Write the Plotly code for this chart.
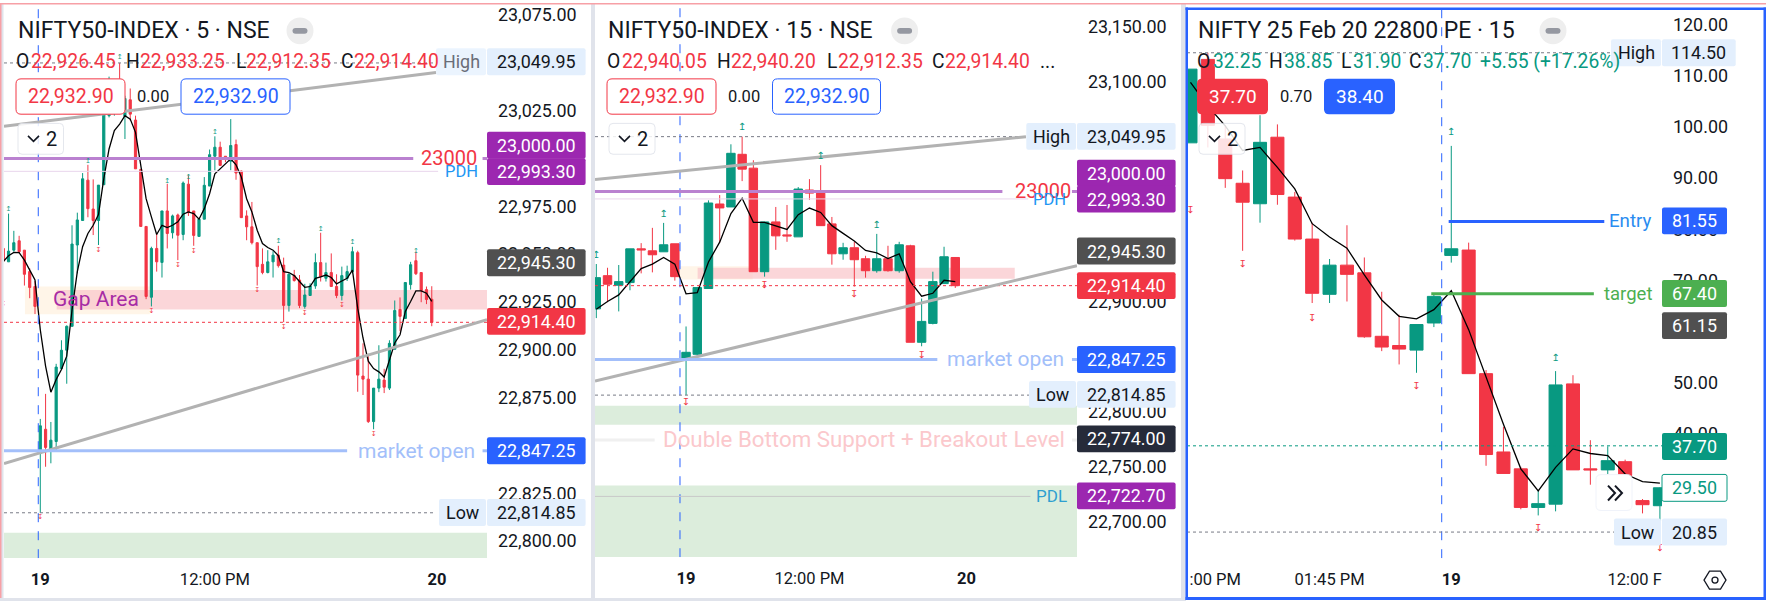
import plotly.graph_objects as go

W, H = 1766, 601
FONT = "Roboto"
UP, DOWN = "#089981", "#F23645"
BLUE = "#2962FF"
INK = "#131722"
GREY_LINE = "#B2B2B2"
PURPLE = "#9C27B0"
LEVEL_PURPLE = "#BA81D0"
LEVEL_BLUE = "#A3BFFA"
ZONE_GREEN = "#DCEDDC"
ZONE_PINK = "#FAD4D6"
ZONE_ORANGE = "#FFF5E8"
TAG_BG = "#E3EFFD"
SIZE_AXIS = 17.9

# ---------- 5 minute chart ----------
o1 = [22953.0,22946.0,22952.1,22957.0,22952.1,22940.9,22933.1,
      22846.0,22858.5,22848.1,22852.1,22890.2,22899.8,22912.3,22954.8,22967.6,22988.7,22973.6,22967.6,22986.3,23022.4,23024.0,23031.0,23022.0,23030.7,23020.1,22994.3,22964.5,22927.5,22953.0,22945.7,22972.6,22961.2,22970.5,22960.3,22986.6,22972.6,22959.3,22968.3,22985.6,23001.2,23005.9,23001.2,22998.6,23007.3,22993.4,22970.0,
      22964.3,22956.0,22944.7,22940.4,22946.0,22949.5,22944.3,22923.2,22938.8,22936.5,22922.7,22928.4,22933.4,22945.6,22937.4,22940.4,22933.1,22928.4,22937.4,22940.9,22950.8,22886.3,22884.7,22862.5,22880.0,22884.2,22880.0,22900.3,22921.1,22916.4,22934.1,22946.6,22940.4,22931.5,22926.45]
h1 = [22953.0,22971.2,22962.2,22959.6,22952.1,22942.6,22936.0,
      22863.9,22877.0,22862.3,22892.7,22905.0,22912.8,22965.1,22971.7,22992.4,22996.7,22989.1,22986.1,23029.3,23042.8,23032.8,23049.95,23032.8,23036.6,23022.4,22994.3,22964.5,22953.9,22960.8,22972.6,22986.8,22970.7,22971.2,22988.0,22991.2,22972.6,22969.0,22990.3,23004.7,23011.6,23008.8,23001.2,23020.6,23009.9,22993.8,22972.9,
      22977.3,22956.0,22953.0,22952.1,22951.6,22954.4,22948.2,22940.0,22941.8,22939.1,22934.5,22934.8,22950.4,22961.2,22945.6,22950.4,22939.5,22943.5,22944.0,22953.9,22951.8,22903.4,22897.9,22880.0,22902.4,22890.1,22905.0,22925.8,22927.4,22935.2,22946.0,22951.3,22940.4,22933.1,22933.25]
l1 = [22943.0,22946.0,22951.3,22950.4,22933.6,22927.0,22918.7,
      22814.85,22838.9,22840.7,22846.9,22889.7,22882.3,22912.3,22940.0,22967.6,22969.3,22960.0,22954.8,22986.3,23021.5,23022.4,23024.0,23010.2,23019.8,22994.6,22964.5,22926.5,22922.7,22940.9,22937.8,22953.0,22958.2,22946.9,22957.3,22970.0,22954.4,22959.3,22968.3,22985.6,22993.8,22996.4,22998.1,22993.9,22988.9,22969.1,22957.3,
      22955.1,22933.6,22939.5,22940.0,22937.8,22943.0,22914.5,22920.0,22935.7,22921.8,22921.5,22928.4,22931.9,22935.7,22935.7,22933.1,22927.0,22925.8,22936.0,22940.0,22878.1,22876.4,22861.8,22858.5,22877.9,22877.4,22879.0,22900.3,22909.7,22916.4,22931.5,22939.1,22924.9,22923.9,22912.35]
c1 = [22946.4,22951.6,22956.0,22951.3,22939.5,22932.6,22922.7,
      22860.3,22849.0,22852.8,22891.0,22899.8,22912.3,22955.3,22967.9,22989.4,22973.8,22967.6,22986.1,23023.0,23030.2,23029.3,23025.8,23031.4,23023.2,22994.6,22964.5,22927.9,22953.0,22946.0,22972.6,22960.8,22970.0,22959.9,22987.2,22971.7,22959.8,22968.3,22986.0,23002.0,23005.9,22996.4,22999.5,23006.8,22992.4,22969.1,22964.3,
      22956.0,22943.5,22940.4,22946.0,22949.5,22944.0,22923.2,22939.5,22936.2,22923.2,22928.7,22933.4,22945.6,22938.3,22940.4,22933.1,22928.4,22938.8,22940.9,22951.3,22886.8,22884.7,22862.5,22880.0,22884.7,22880.5,22903.4,22920.6,22917.5,22935.2,22944.5,22939.8,22931.0,22926.3,22914.4]
ema1 = [22946.1,22949.2,22950.9,22950.8,22946.9,22941.7,22936.5,
        22910.5,22891.5,22877.9,22884.5,22889.7,22896.7,22920.9,22940.9,22953.9,22960.8,22965.1,22970.7,22989.4,23005.0,23014.6,23018.0,23022.4,23020.6,23013.7,22995.5,22979.0,22969.5,22960.3,22965.1,22963.9,22965.1,22966.9,22970.9,22972.1,22971.2,22968.3,22973.8,22981.6,22992.0,22994.6,22997.2,22999.8,22996.7,22990.3,22979.0,
        22972.1,22962.5,22955.6,22953.5,22952.1,22949.2,22940.9,22940.4,22938.8,22935.7,22932.7,22933.1,22937.4,22938.1,22939.1,22937.8,22934.5,22936.0,22937.4,22941.7,22921.8,22906.2,22894.1,22890.2,22888.5,22885.8,22894.1,22903.6,22907.9,22920.1,22925.3,22930.8,22930.8,22929.6,22925.3]
first_bar1 = -7
up_k1 = [-6, 9, 15, 24, 28, 33, 45, 53, 59, 71]
up_p1 = [22973.3, 22998.6, 23052.7, 22988.2, 22990.3, 23013.9, 22956.5, 22963.2, 22956.0, 22951.3]
dn_k1 = [-7, 0, 11, 21, 26, 29, 41, 46, 50, 57, 63]
dn_p1 = [22923.6, 22812.6, 22952.1, 22920.1, 22944.0, 22951.5, 22931.0, 22911.8, 22919.0, 22923.4, 22856.1]
ticks_y1 = [23075, 23025, 22975, 22950, 22925, 22900, 22875, 22825, 22800]
ticks_x1 = [0, 33, 75]
range_x1 = [-6.86, 84.44]
range_y1 = [22791.1, 23079.2]

# ---------- 15 minute chart ----------
o2 = [22893.3,22923.5,22914.8,22917.2,22947.9,22946.1,22945.2,22952.5,22846.6,22852.0,22911.8,22988.7,22986.0,23033.9,23021.3,22927.1,22972.4,22960.6,22958.8,23001.4,22998.6,22970.6,22943.4,22948.9,22938.9,22928.0,22938.9,22928.0,22950.7,22862.9,22880.1,22916.3,22940.05]
h2 = [22934.1,22930.7,22933.2,22947.9,22953.1,22967.0,22971.5,22952.5,22877.3,22912.7,22992.0,22996.8,23043.0,23049.95,23028.5,22972.4,22986.0,22987.8,23004.1,23011.3,23024.0,22976.9,22953.4,22954.3,22941.6,22961.5,22950.7,22954.3,22951.6,22902.7,22927.1,22949.8,22940.2]
l2 = [22884.9,22899.4,22891.0,22910.2,22925.6,22926.5,22945.2,22919.0,22814.85,22847.5,22911.8,22953.7,22986.0,23009.5,22927.1,22922.6,22947.0,22954.3,22958.8,22992.3,22968.8,22933.5,22938.0,22913.6,22921.7,22926.2,22927.1,22926.2,22862.9,22859.3,22879.2,22916.3,22912.35]
c2 = [22921.7,22915.7,22918.1,22947.9,22947.0,22942.5,22951.6,22922.6,22853.8,22912.7,22989.6,22985.1,23034.8,23020.4,22927.1,22972.4,22959.7,22959.7,23002.3,22998.6,22969.0,22943.4,22948.9,22938.0,22928.0,22938.9,22928.0,22951.6,22862.9,22881.9,22918.1,22940.7,22914.4]
ema2 = [22893,22900,22906,22918,22930,22934,22940,22934,22907,22908,22936,22954,22980,22994,22972,22972,22969,22965.5,22979,22985,22981,22969,22962,22955,22946.4,22944.3,22939,22943.4,22918,22904.8,22907.5,22919.3,22918]
up_k2 = [0, 6, 13, 20, 25]
up_p2 = [22942.2, 22979.0, 23058.1, 23031.8, 22969.1]
dn_k2 = [8, 15, 23, 29]
dn_p2 = [22808.0, 22914.5, 22906.0, 22850.8]
ticks_y2 = [23150, 23100, 22900, 22800, 22750, 22700]
ticks_x2 = [8, 19, 33]
range_x2 = [-0.116, 42.85]
range_y2 = [22667.4, 23167.9]

# ---------- option chart ----------
o3 = [96.9,113.2,97.65,89.0,85.0,98.0,86.3,78.1,67.3,73.0,71.5,59.1,57.3,56.4,61.7,74.9,75.95,51.8,36.5,33.2,25.66,26.3,49.8,33.2,33.0,34.6,27.0,26.0]
h3 = [111.3,114.5,100.3,91.5,102.3,100.5,87.3,81.3,74.2,80.8,74.5,67.8,63.3,61.4,67.2,96.3,77.4,52.5,41.4,33.6,29.0,52.3,51.5,38.8,37.6,35.0,27.3,29.6]
l3 = [96.9,96.0,88.1,75.8,81.3,84.8,77.8,65.6,65.6,65.9,58.8,56.2,53.6,51.97,60.9,73.5,51.8,33.8,32.3,25.3,24.1,24.9,33.0,30.1,32.2,31.5,24.5,20.85]
c3 = [111.3,100.3,89.9,85.3,97.0,86.8,78.1,67.5,73.0,71.2,59.0,57.0,56.6,61.4,66.9,76.2,51.8,36.0,32.3,25.66,26.4,49.6,33.0,33.0,34.8,31.9,26.2,29.5]
ema3 = [108.7,104.1,100.2,95.4,96.0,92.1,87.9,81.1,78.5,76.3,71.1,66.2,63.0,62.5,64.3,68.0,60.4,51.0,41.9,33.2,28.9,33.5,37.1,36.2,35.8,32.2,30.7,30.4]
up_k3 = [15, 21]
up_p3 = [99.0, 54.75]
dn_k3 = [0, 3, 7, 13, 20, 27]
dn_p3 = [83.7, 73.2, 62.5, 49.25, 21.5, 17.6]
ticks_y3 = [120, 110, 100, 90, 80, 70, 50, 40]
ticks_x3 = [1.42, 8, 15, 25.55]
labels_x3 = [":00 PM", "01:45 PM", "<b>19</b>", "12:00 F"]
range_x3 = [-0.2, 27.12]
range_y3 = [15.74, 122.86]

fig = go.Figure()

def candles(xref, yref, x, o, h, l, c):
    fig.add_trace(go.Candlestick(
        x=x, open=o, high=h, low=l, close=c, xaxis=xref, yaxis=yref,
        increasing=dict(line=dict(color=UP, width=1), fillcolor=UP),
        decreasing=dict(line=dict(color=DOWN, width=1), fillcolor=DOWN),
        whiskerwidth=0, hoverinfo="skip", showlegend=False))

def line(xref, yref, x, y, color, width=1, dash="solid"):
    fig.add_trace(go.Scatter(x=x, y=y, xaxis=xref, yaxis=yref, mode="lines",
                             line=dict(color=color, width=width, dash=dash),
                             hoverinfo="skip", showlegend=False))

def arrows(xref, yref, kx, py_, color, glyph, size):
    fig.add_trace(go.Scatter(x=kx, y=py_, xaxis=xref, yaxis=yref, mode="text",
                             text=[glyph] * len(kx), textposition="middle center",
                             textfont=dict(family="DejaVu Sans", size=size, color=color),
                             hoverinfo="skip", showlegend=False))

shapes = []
annos = []

def px(x):
    return x / W

def py(y):
    return 1 - y / H

def zone(n, x0, x1, p0, p1, fill, opacity=1):
    shapes.append(dict(type="rect", xref=f"x{n}", yref=f"y{n}", x0=x0, x1=x1, y0=p0, y1=p1,
                       fillcolor=fill, line=dict(width=0), layer="below", opacity=opacity))

def rrect(x0, y0, x1, y1, r=4, fill="white", stroke=None, lw=1, opacity=1):
    path = (f"M {px(x0+r)} {py(y0)} L {px(x1-r)} {py(y0)} Q {px(x1)} {py(y0)} {px(x1)} {py(y0+r)} "
            f"L {px(x1)} {py(y1-r)} Q {px(x1)} {py(y1)} {px(x1-r)} {py(y1)} "
            f"L {px(x0+r)} {py(y1)} Q {px(x0)} {py(y1)} {px(x0)} {py(y1-r)} "
            f"L {px(x0)} {py(y0+r)} Q {px(x0)} {py(y0)} {px(x0+r)} {py(y0)} Z")
    shapes.append(dict(type="path", xref="paper", yref="paper", path=path, fillcolor=fill,
                       line=dict(color=stroke or fill, width=lw if stroke else 0),
                       layer="above", opacity=opacity))

def text(x, y, s, size=SIZE_AXIS, color=INK, anchor="center"):
    annos.append(dict(xref="paper", yref="paper", x=px(x), y=py(y), text=s, showarrow=False,
                      xanchor=anchor, yanchor="middle", font=dict(family=FONT, size=size, color=color),
                      borderpad=0, borderwidth=0))

def chip(x0, x1, yc, s, fill, color="white", h=27, stroke=None, opacity=1, size=SIZE_AXIS, r=2):
    rrect(x0, yc - h / 2, x1, yc + h / 2, r=r, fill=fill, stroke=stroke, opacity=opacity)
    text((x0 + x1) / 2, yc, s, color=color, size=size)

def header(x_title, title, x_pill, row, row_color, y_row=59):
    text(x_title, 28, title, size=23, anchor="left")
    shapes.append(dict(type="circle", xref="paper", yref="paper", x0=px(x_pill - 13.5), x1=px(x_pill + 13.5),
                       y0=py(14.5), y1=py(41.5), fillcolor="#EEEEEE", line=dict(width=0), layer="above"))
    rrect(x_pill - 7.5, 25, x_pill + 7.5, 31, r=3, fill="#9598A1")
    for x, s, coloured in row:
        text(x, y_row, s, size=19.3, anchor="left", color=row_color if coloured else INK)

def seg_box(x0, x1):
    rrect(x0, 121, x1, 152, r=4, fill="white", stroke="#E0E3EB", opacity=0.85)
    shapes.append(dict(type="path", xref="paper", yref="paper",
                       path=f"M {px(x0+10)} {py(133.5)} L {px(x0+15.5)} {py(139)} L {px(x0+21)} {py(133.5)}",
                       line=dict(color=INK, width=1.6), layer="above"))
    text(x0 + 33, 136.5, "2", size=20)

# ---------- panel 1 traces ----------
x1 = [first_bar1 + i for i in range(len(c1))]
gap_marker1 = first_bar1 - 0.55
zone(1, -2.9, 20.7, 22918.6, 22933.1, ZONE_ORANGE)
zone(1, 3.1, range_x1[1], 22921.1, 22931.3, "#F9C6CA", 0.72)
zone(1, range_x1[0], range_x1[1], 22791.2, 22804.4, ZONE_GREEN)
candles("x", "y", [gap_marker1] + x1, [None] + o1, [None] + h1, [None] + l1, [None] + c1)
line("x", "y", x1, ema1, "#000000", 1.3)
line("x", "y", [-0.38, -0.38], range_y1, BLUE, 1, "dash")
line("x", "y", [range_x1[0], 74.8], [23049.95, 23049.95], "#787B86", 1, "dot")
line("x", "y", [range_x1[0], 74.8], [22814.85, 22814.85], "#787B86", 1, "dot")
line("x", "y", range_x1, [22914.4, 22914.4], DOWN, 1, "dot")
line("x", "y", [range_x1[0], 74.8], [23016.8, 23044.9], GREY_LINE, 3)
line("x", "y", range_x1, [22840.6, 22915.8], GREY_LINE, 3)
line("x", "y", [range_x1[0], 70.5], [23000, 23000], LEVEL_PURPLE, 3)
line("x", "y", [83.6, range_x1[1]], [23000, 23000], LEVEL_PURPLE, 3)
line("x", "y", [range_x1[0], 75.2], [22993.3, 22993.3], "#E9D5EC", 1)
line("x", "y", [range_x1[0], 58], [22847.25, 22847.25], LEVEL_BLUE, 3)
line("x", "y", [83.6, range_x1[1]], [22847.25, 22847.25], LEVEL_BLUE, 3)
arrows("x", "y", up_k1, up_p1, UP, "↥", 7)
arrows("x", "y", dn_k1, dn_p1, DOWN, "↧", 7)

# ---------- panel 2 traces ----------
x2 = list(range(len(c2)))
zone(2, 7.46, 13.95, 22920.0, 22932.0, ZONE_ORANGE)
zone(2, 9.03, 37.3, 22920.8, 22930.8, "#F9C6CA", 0.72)
zone(2, range_x2[0], range_x2[1], 22788.0, 22805.2, ZONE_GREEN)
zone(2, range_x2[0], range_x2[1], 22667.6, 22732.6, ZONE_GREEN)
candles("x2", "y2", x2, o2, h2, l2, c2)
line("x2", "y2", x2, ema2, "#000000", 1.3)
line("x2", "y2", [7.46, 7.46], range_y2, BLUE, 1, "dash")
line("x2", "y2", [range_x2[0], 38.3], [23049.95, 23049.95], "#787B86", 1, "dot")
line("x2", "y2", [range_x2[0], 38.6], [22814.85, 22814.85], "#787B86", 1, "dot")
line("x2", "y2", range_x2, [22914.4, 22914.4], DOWN, 1, "dot")
line("x2", "y2", [range_x2[0], 38.3], [23011.0, 23049.95], GREY_LINE, 3)
line("x2", "y2", range_x2, [22827.6, 22932.6], GREY_LINE, 3)
line("x2", "y2", [range_x2[0], 36.2], [23000, 23000], LEVEL_PURPLE, 3)
line("x2", "y2", [42.4, range_x2[1]], [23000, 23000], LEVEL_PURPLE, 3)
line("x2", "y2", [range_x2[0], 38.5], [22993.3, 22993.3], "#E9D5EC", 1)
line("x2", "y2", [range_x2[0], 30.4], [22847.25, 22847.25], LEVEL_BLUE, 3)
line("x2", "y2", [42.4, range_x2[1]], [22847.25, 22847.25], LEVEL_BLUE, 3)
line("x2", "y2", [range_x2[0], 5.2], [22774, 22774], "#F0F0F0", 3)
line("x2", "y2", [42.4, range_x2[1]], [22774, 22774], "#F0F0F0", 3)
line("x2", "y2", [range_x2[0], 38.7], [22722.7, 22722.7], "#C8C8C8", 1)
arrows("x2", "y2", up_k2, up_p2, UP, "↥", 10)
arrows("x2", "y2", dn_k2, dn_p2, DOWN, "↧", 10)

# ---------- panel 3 traces ----------
x3 = list(range(len(c3)))
candles("x3", "y3", x3, o3, h3, l3, c3)
line("x3", "y3", x3, ema3, "#000000", 1.3)
line("x3", "y3", [14.45, 14.45], range_y3, BLUE, 1, "dash")
line("x3", "y3", [range_x3[0], 24.8], [114.5, 114.5], "#787B86", 1, "dot")
line("x3", "y3", [range_x3[0], 24.8], [20.85, 20.85], "#787B86", 1, "dot")
line("x3", "y3", range_x3, [37.7, 37.7], UP, 1, "dot")
line("x3", "y3", [14.85, 23.8], [81.55, 81.55], BLUE, 3)
line("x3", "y3", [13.85, 23.2], [67.4, 67.4], "#4CAF50", 3)
arrows("x3", "y3", up_k3, up_p3, UP, "↥", 10)
arrows("x3", "y3", dn_k3, dn_p3, DOWN, "↧", 10)

# ---------- axes ----------
def axes(n, x0, x1_, y0, y1_, rx, ry, tx, lx, ty):
    sx = "" if n == 1 else str(n)
    fig.update_layout(**{
        f"xaxis{sx}": dict(domain=[px(x0), px(x1_)], range=rx, anchor=f"y{sx}", tickmode="array", tickvals=tx,
                           ticktext=lx, showgrid=False, zeroline=False, showline=False, ticks="",
                           ticklabelstandoff=9, tickangle=0, rangeslider=dict(visible=False),
                           tickfont=dict(family=FONT, size=16.5, color=INK)),
        f"yaxis{sx}": dict(domain=[py(y1_), py(y0)], range=ry, anchor=f"x{sx}", side="right", tickmode="array",
                           tickvals=ty, ticktext=[f"{v:,.2f}" for v in ty], showgrid=False, zeroline=False,
                           showline=False, ticks="", ticklabelstandoff=10,
                           tickfont=dict(family=FONT, size=SIZE_AXIS, color=INK)),
    })

axes(1, 4, 487, 4, 558, range_x1, range_y1, ticks_x1, ["<b>19</b>", "12:00 PM", "<b>20</b>"], ticks_y1)
axes(2, 595, 1077, 4, 557, range_x2, range_y2, ticks_x2, ["<b>19</b>", "12:00 PM", "<b>20</b>"], ticks_y2)
axes(3, 1187, 1662, 7, 558, range_x3, range_y3, ticks_x3, labels_x3, ticks_y3)

# ---------- panel chrome ----------
for x0, x1_ in [(0, 3.5), (591, 595), (1181, 1186)]:
    rrect(x0, 0, x1_, 601, r=0, fill="#E0E3EB")
rrect(0, 0, 1.5, 601, r=0, fill="#F7A0A6")
rrect(0, 598, 1186, 601, r=0, fill="#E0E3EB")
rrect(0, 0, 1766, 1.5, r=0, fill="#F7A0A6")
for x0, y0, x1_, y1_ in [(1185.5, 4.5, 1188, 600), (1185.5, 4.5, 1766, 7), (1185.5, 597, 1766, 600), (1763.5, 4.5, 1766, 600)]:
    rrect(x0, y0, x1_, y1_, r=0, fill=BLUE)

# ---------- panel 1 labels ----------
text(96, 297.7, "Gap Area", size=21, color="#A72BA5")
text(448.5, 156, "23000", size=20, color=DOWN)
text(461, 169.5, "PDH", size=16.5, color="#2196F3")
text(416, 450, "market open", size=21, color=LEVEL_BLUE)
header(17.6, "NIFTY50-INDEX · 5 · NSE", 300,
       [(16, "O", 0), (31.4, "22,926.45", 1), (126.3, "H", 0), (140, "22,933.25", 1),
        (236, "L", 0), (246, "22,912.35", 1), (341.4, "C", 0), (354.4, "22,914.40", 1)], DOWN)
chip(16, 125, 94, "22,932.90", "white", DOWN, h=35.5, stroke=DOWN, size=19.5, r=5)
text(153, 94, "0.00", size=16.5)
chip(181, 290, 94, "22,932.90", "white", BLUE, h=35.5, stroke=BLUE, size=19.5, r=5)
seg_box(18, 63.5)
chip(436, 486, 59, "High", TAG_BG, "#6A6D78", opacity=0.7)
chip(487, 585.6, 59, "23,049.95", TAG_BG, INK)
chip(487, 585.6, 143, "23,000.00", PURPLE)
chip(487, 585.6, 169.5, "22,993.30", PURPLE)
chip(487, 585.6, 261, "22,945.30", "#505050")
chip(487, 585.6, 320, "22,914.40", DOWN)
chip(487, 585.6, 450, "22,847.25", BLUE)
chip(439, 486, 512, "Low", TAG_BG, INK)
chip(487, 585.6, 512, "22,814.85", TAG_BG, INK)

# ---------- panel 2 labels ----------
text(1043, 189, "23000", size=20, color=DOWN)
text(1049, 197, "PDH", size=16.5, color="#2196F3")
text(1005, 358, "market open", size=21, color=LEVEL_BLUE)
text(864, 438.5, "Double Bottom Support + Breakout Level", size=22.3, color="#FBC8CC")
text(1051, 495, "PDL", size=17, color="#2E9FD0")
header(608, "NIFTY50-INDEX · 15 · NSE", 904.6,
       [(607.2, "O", 0), (622, "22,940.05", 1), (717, "H", 0), (731, "22,940.20", 1),
        (826.5, "L", 0), (837.5, "22,912.35", 1), (932, "C", 0), (945, "22,914.40", 1), (1040, "...", 0)], DOWN)
chip(607, 716, 94, "22,932.90", "white", DOWN, h=35.5, stroke=DOWN, size=19.5, r=5)
text(744, 94, "0.00", size=16.5)
chip(772.5, 880.5, 94, "22,932.90", "white", BLUE, h=35.5, stroke=BLUE, size=19.5, r=5)
seg_box(609, 655)
chip(1026.3, 1076, 134, "High", TAG_BG, INK)
chip(1077, 1175.6, 134, "23,049.95", TAG_BG, INK)
chip(1077, 1175.6, 171, "23,000.00", PURPLE)
chip(1077, 1175.6, 197, "22,993.30", PURPLE)
chip(1077, 1175.6, 249.3, "22,945.30", "#505050")
chip(1077, 1175.6, 284, "22,914.40", DOWN)
chip(1077, 1175.6, 358.3, "22,847.25", BLUE)
chip(1029, 1076, 393.3, "Low", TAG_BG, INK)
chip(1077, 1175.6, 393.3, "22,814.85", TAG_BG, INK)
chip(1077, 1175.6, 438, "22,774.00", "#262B3A")
chip(1077, 1175.6, 495.3, "22,722.70", PURPLE)

# ---------- panel 3 labels ----------
text(1652, 219, "Entry", size=18.7, color="#2A8CF0", anchor="right")
text(1652, 292, "target", size=18.5, color="#4CAF50", anchor="right")
header(1198, "NIFTY 25 Feb 20 22800 PE · 15", 1553,
       [(1197, "O", 0), (1213, "32.25", 1), (1269, "H", 0), (1283.5, "38.85", 1),
        (1340.7, "L", 0), (1352.6, "31.90", 1), (1408.7, "C", 0), (1423, "37.70", 1), (1479.7, "+5.55 (+17.26%)", 1)], UP)
chip(1197, 1268, 94, "37.70", DOWN, "white", h=35.5, size=19, r=5)
text(1296, 94, "0.70", size=16.5)
chip(1324, 1395, 94, "38.40", BLUE, "white", h=35.5, size=19, r=5)
seg_box(1199, 1245)
chip(1611, 1661, 50, "High", TAG_BG, INK, opacity=0.85)
chip(1662, 1735.7, 50, "114.50", TAG_BG, INK)
chip(1662, 1727, 219, "81.55", BLUE)
chip(1662, 1727, 292, "67.40", "#4CAF50")
chip(1662, 1727, 324.3, "61.15", "#505050")
chip(1662, 1727, 445.7, "37.70", UP)
chip(1662, 1727, 487.3, "29.50", "white", UP, stroke=UP)
chip(1614, 1661, 531.7, "Low", TAG_BG, INK)
chip(1662, 1727, 531.7, "20.85", TAG_BG, INK)
rrect(1596, 474, 1632, 510, r=5, fill="white", stroke="#F0F3FA")
shapes.append(dict(type="path", xref="paper", yref="paper", layer="above", line=dict(color=INK, width=2),
                   path=f"M {px(1608)} {py(485)} L {px(1615)} {py(492.5)} L {px(1608)} {py(500)} "
                        f"M {px(1615)} {py(485)} L {px(1622)} {py(492.5)} L {px(1615)} {py(500)}"))
hx, hy = 1715, 580
shapes.append(dict(type="path", xref="paper", yref="paper", layer="above", line=dict(color=INK, width=1.3),
                   path=f"M {px(hx-11)} {py(hy)} L {px(hx-5.5)} {py(hy-9)} L {px(hx+5.5)} {py(hy-9)} "
                        f"L {px(hx+11)} {py(hy)} L {px(hx+5.5)} {py(hy+9)} L {px(hx-5.5)} {py(hy+9)} Z"))
shapes.append(dict(type="circle", xref="paper", yref="paper", layer="above", line=dict(color=INK, width=1.3),
                   x0=px(hx-3), x1=px(hx+3), y0=py(hy+3), y1=py(hy-3)))

fig.update_layout(width=W, height=H, margin=dict(l=0, r=0, t=0, b=0), paper_bgcolor="white", plot_bgcolor="white",
                  showlegend=False, boxgap=0.25, boxgroupgap=0, shapes=shapes, annotations=annos, hovermode=False,
                  font=dict(family=FONT, color=INK))

fig.write_html("out.html", config=dict(displayModeBar=False),
               post_script="document.body.style.margin='0';document.body.style.overflow='hidden';")
